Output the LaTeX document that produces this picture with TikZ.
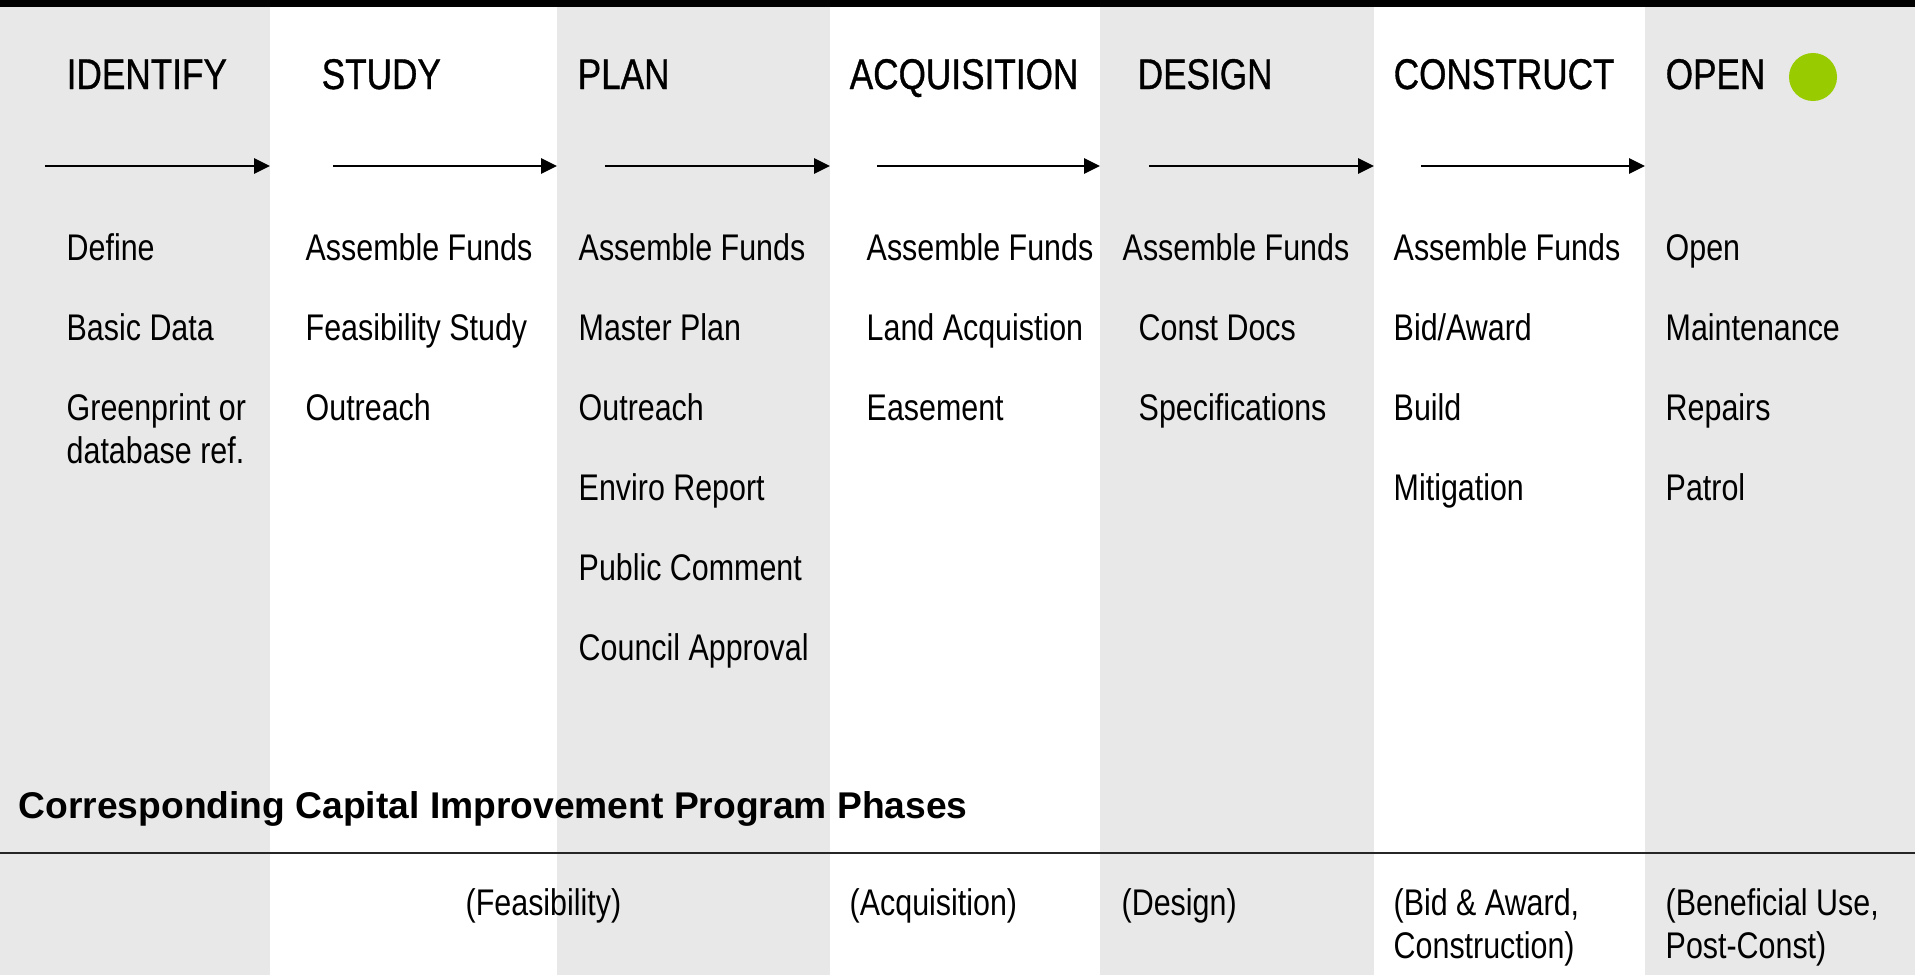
\documentclass[tikz,border=0pt]{standalone}
\usepackage{fontspec}
\setmainfont{Liberation Sans}[FakeStretch=0.82]
\newfontfamily\headsans{Liberation Sans}[FakeStretch=0.82,FakeBold=0.8]
\newfontfamily\boldsans{Liberation Sans}[FakeStretch=1.0]
\usepackage{xcolor}
\usetikzlibrary{arrows.meta}

\definecolor{stripe}{RGB}{232,232,232}
\definecolor{opengreen}{RGB}{153,204,0}

\tikzset{
  phase/.style={anchor=base west,inner sep=0pt,font=\headsans\fontsize{12.2pt}{14pt}\selectfont},
  task/.style={anchor=base west,inner sep=0pt,font=\fontsize{10.55pt}{12pt}\selectfont},
  flow/.style={-{Triangle[length=4.5pt,width=4.3pt]},line width=0.5pt},
}

\begin{document}
\begin{tikzpicture}[x=0.01cm,y=-0.01cm]
  \useasboundingbox (0,0) rectangle (1915,975);
  \fill[white] (0,0) rectangle (1915,975);
  \fill[stripe] (0,0) rectangle (270,975);
  \fill[stripe] (557,0) rectangle (830,975);
  \fill[stripe] (1100,0) rectangle (1374,975);
  \fill[stripe] (1645,0) rectangle (1915,975);
  \fill[black] (0,0) rectangle (1915,7);

  \node[phase] (identify) at (66,89) {IDENTIFY};
  \node[phase] (study) at (321,89) {STUDY};
  \node[phase] (plan) at (577,89) {PLAN};
  \node[phase] (acquisition) at (849,89) {ACQUISITION};
  \node[phase] (design) at (1137,89) {DESIGN};
  \node[phase] (construct) at (1393,89) {CONSTRUCT};
  \node[phase] (open) at (1665,89) {OPEN};
  \node[circle,fill=opengreen,minimum size=0.48cm,inner sep=0pt] (dot) at (1813,77) {};

  \coordinate (s1) at (45,166);   \coordinate (e1) at (270,166);
  \coordinate (s2) at (333,166);  \coordinate (e2) at (557,166);
  \coordinate (s3) at (605,166);  \coordinate (e3) at (830,166);
  \coordinate (s4) at (877,166);  \coordinate (e4) at (1100,166);
  \coordinate (s5) at (1149,166); \coordinate (e5) at (1374,166);
  \coordinate (s6) at (1421,166); \coordinate (e6) at (1645,166);
  \draw[flow] (s1) -- (e1);
  \draw[flow] (s2) -- (e2);
  \draw[flow] (s3) -- (e3);
  \draw[flow] (s4) -- (e4);
  \draw[flow] (s5) -- (e5);
  \draw[flow] (s6) -- (e6);

  \node[task] (define) at (66,260) {Define};
  \node[task] (basic) at (66,340) {Basic Data};
  \node[task] (green) at (66,420) {Greenprint or};
  \node[task] (dbref) at (66,463) {database ref.};

  \node[task] (funds2) at (305,260) {Assemble Funds};
  \node[task] (feas) at (305,340) {Feasibility Study};
  \node[task] (out2) at (305,420) {Outreach};

  \node[task] (funds3) at (578,260) {Assemble Funds};
  \node[task] (master) at (578,340) {Master Plan};
  \node[task] (out3) at (578,420) {Outreach};
  \node[task] (enviro) at (578,500) {Enviro Report};
  \node[task] (public) at (578,580) {Public Comment};
  \node[task] (council) at (578,660) {Council Approval};

  \node[task] (funds4) at (866,260) {Assemble Funds};
  \node[task] (land) at (866,340) {Land Acquistion};
  \node[task] (ease) at (866,420) {Easement};

  \node[task] (funds5) at (1122,260) {Assemble Funds};
  \node[task] (docs) at (1138,340) {Const Docs};
  \node[task] (specs) at (1138,420) {Specifications};

  \node[task] (funds6) at (1393,260) {Assemble Funds};
  \node[task] (bid) at (1393,340) {Bid/Award};
  \node[task] (build) at (1393,420) {Build};
  \node[task] (mitig) at (1393,500) {Mitigation};

  \node[task] (opened) at (1665,260) {Open};
  \node[task] (maint) at (1665,340) {Maintenance};
  \node[task] (repairs) at (1665,420) {Repairs};
  \node[task] (patrol) at (1665,500) {Patrol};

  \node[anchor=base west,inner sep=0pt,font=\boldsans\bfseries\fontsize{10.58pt}{12pt}\selectfont] (cip) at (18,818) {Corresponding Capital Improvement Program Phases};
  \draw[line width=0.75pt,black!85] (0,853) -- (1915,853);

  \node[task] (cipfeas) at (465,915) {(Feasibility)};
  \node[task] (cipacq) at (849,915) {(Acquisition)};
  \node[task] (cipdes) at (1121,915) {(Design)};
  \node[task] (cipbid) at (1393,915) {(Bid \& Award,};
  \node[task] (cipbid2) at (1393,958) {Construction)};
  \node[task] (cipuse) at (1665,915) {(Beneficial Use,};
  \node[task] (cipuse2) at (1665,958) {Post-Const)};
\end{tikzpicture}
\end{document}
